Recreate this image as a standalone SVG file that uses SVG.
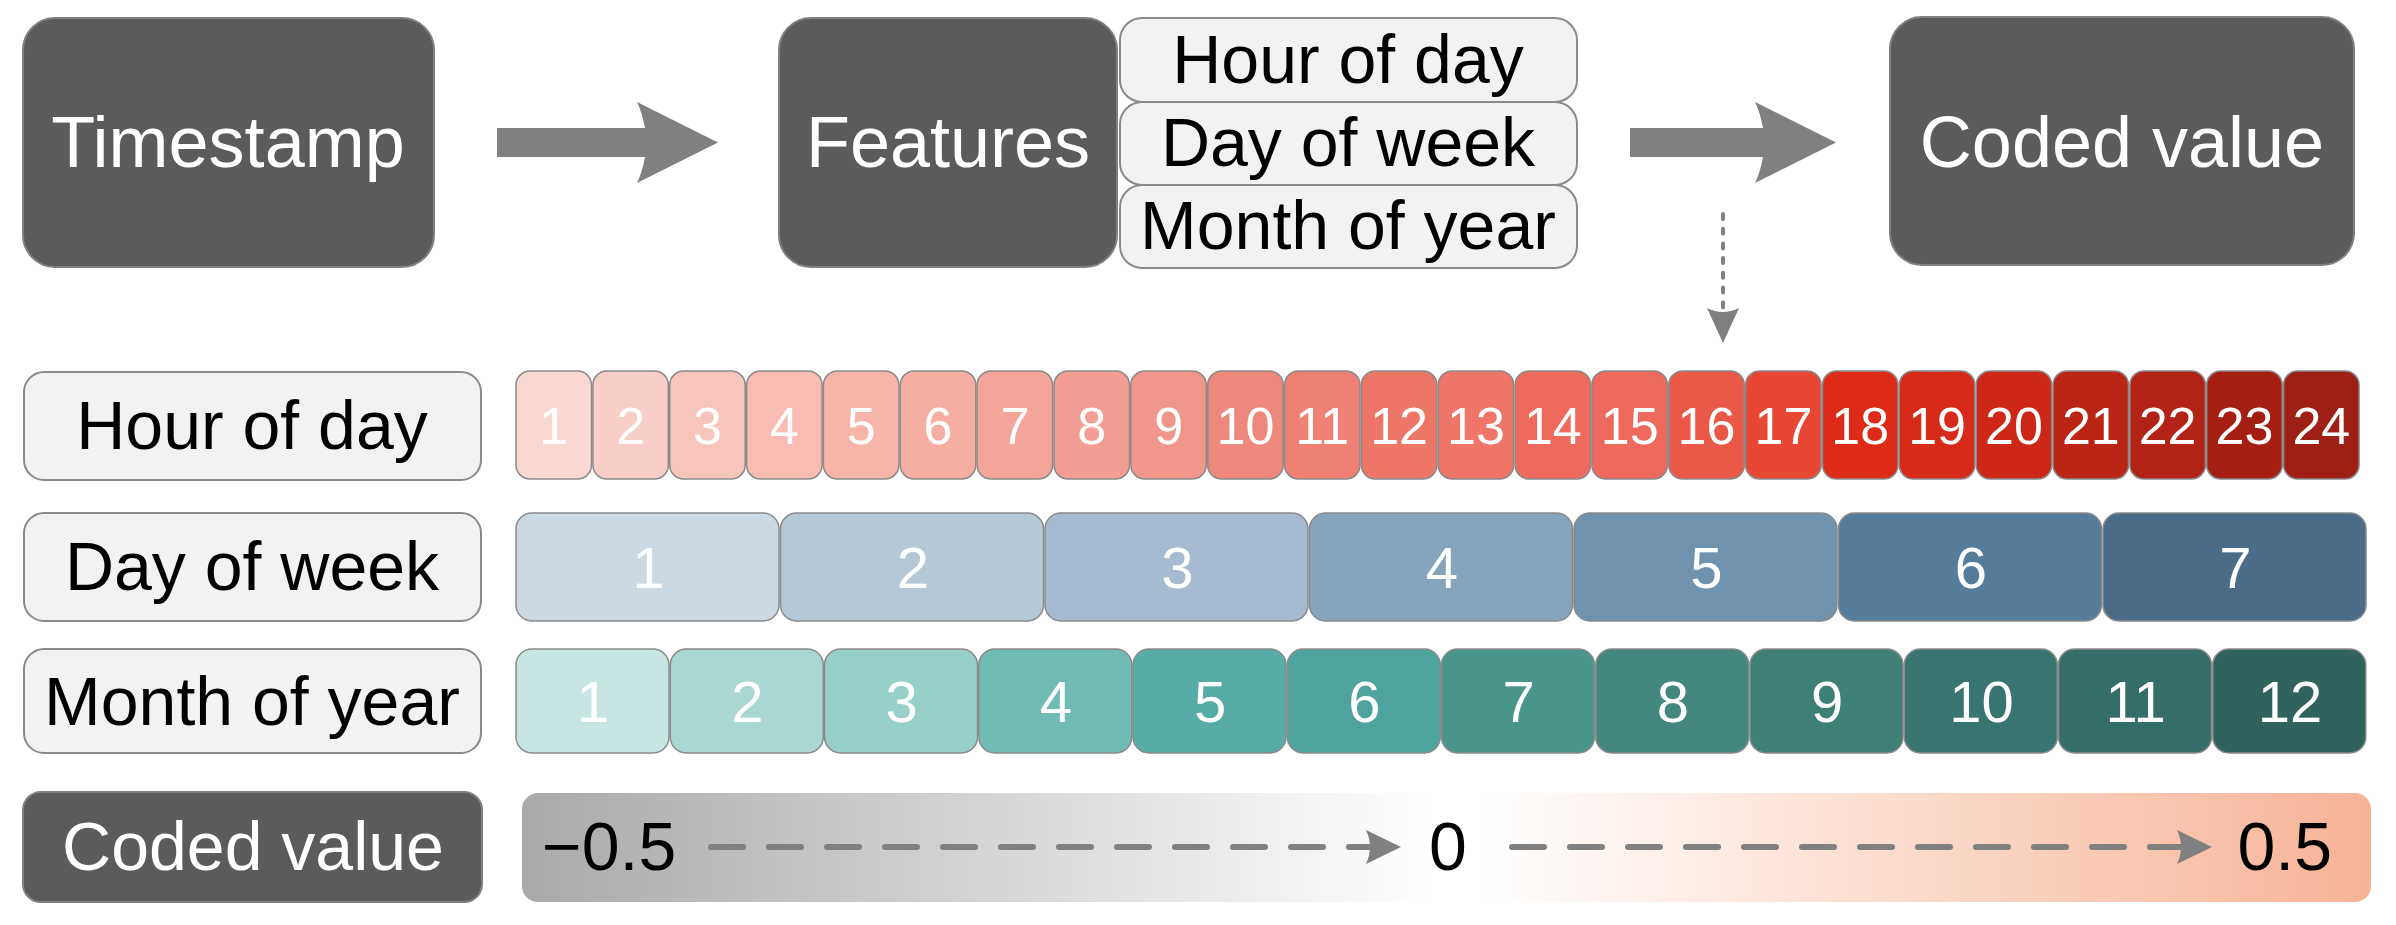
<svg xmlns="http://www.w3.org/2000/svg" width="2396" height="925" viewBox="0 0 2396 925">
<defs>
<style>
.dark{fill:#5b5b5b;stroke:#808080;stroke-width:2}
.lite{fill:#f2f2f2;stroke:#8a8a8a;stroke-width:2}
.cell{stroke:#8a8a8a;stroke-width:1.5}
.t{font-family:"Liberation Sans",Arial,sans-serif;text-anchor:middle}
.w{fill:#ffffff}
.k{fill:#000000}
.big{font-size:72px}
.lab{font-size:68px}
.hd{font-size:52px}
.dg{font-size:58px}
.bigarrow{fill:#808080}
.dash{stroke:#808080;stroke-width:6;stroke-linecap:round;stroke-dasharray:32 26;fill:none}
.dot{stroke:#808080;stroke-width:4;stroke-linecap:round;stroke-dasharray:5 9.7;fill:none}
</style>
<linearGradient id="gbar" x1="0" y1="0" x2="1" y2="0">
<stop offset="0" stop-color="#a9a9a9"/>
<stop offset="0.49" stop-color="#ffffff"/>
<stop offset="0.52" stop-color="#ffffff"/>
<stop offset="1" stop-color="#f7b396"/>
</linearGradient>
</defs>
<rect width="2396" height="925" fill="#ffffff"/>

<g id="timestamp">
<rect class="dark" x="23" y="18" width="411" height="249" rx="32"/>
<text class="t w big" x="228" y="167">Timestamp</text>
</g>

<g id="features">
<rect class="dark" x="779" y="18" width="338" height="249" rx="32"/>
<text class="t w big" x="948" y="167">Features</text>
</g>

<g id="feature-list">
<rect class="lite" x="1120" y="18" width="457" height="84" rx="22"/>
<text class="t k lab" x="1348" y="83">Hour of day</text>
<rect class="lite" x="1120" y="102" width="457" height="83" rx="22"/>
<text class="t k lab" x="1348" y="166">Day of week</text>
<rect class="lite" x="1120" y="185" width="457" height="83" rx="22"/>
<text class="t k lab" x="1348" y="249">Month of year</text>
</g>

<g id="coded-value-top">
<rect class="dark" x="1890" y="17" width="464" height="248" rx="32"/>
<text class="t w big" x="2122" y="167">Coded value</text>
</g>

<g id="connectors">
<path class="bigarrow" d="M497,128 L645,128 Q642,112 637,102 L718,142.5 L637,183 Q642,173 645,157 L497,157 Z"/>
<path class="bigarrow" d="M1630,128 L1763,128 Q1760,112 1755,102 L1836,142.5 L1755,183 Q1760,173 1763,157 L1630,157 Z"/>
<line class="dot" x1="1723" y1="214" x2="1723" y2="310"/>
<path fill="#808080" d="M1707,308 Q1723,316 1739,308 L1723,343 Z"/>
</g>

<g id="row-hour-label">
<rect class="lite" x="24" y="372" width="457" height="108" rx="20"/>
<text class="t k lab" x="252" y="449">Hour of day</text>
</g>

<g id="row-hour-cells">
<rect class="cell" x="516.0" y="371" width="75.5" height="108" rx="14" fill="#f9d7d2"/>
<rect class="cell" x="592.9" y="371" width="75.5" height="108" rx="14" fill="#f9cec8"/>
<rect class="cell" x="669.7" y="371" width="75.5" height="108" rx="14" fill="#f8c5bd"/>
<rect class="cell" x="746.6" y="371" width="75.5" height="108" rx="14" fill="#f8bcb2"/>
<rect class="cell" x="823.4" y="371" width="75.5" height="108" rx="14" fill="#f7b4a9"/>
<rect class="cell" x="900.3" y="371" width="75.5" height="108" rx="14" fill="#f6aea3"/>
<rect class="cell" x="977.1" y="371" width="75.5" height="108" rx="14" fill="#f3a59a"/>
<rect class="cell" x="1054.0" y="371" width="75.5" height="108" rx="14" fill="#f39e94"/>
<rect class="cell" x="1130.8" y="371" width="75.5" height="108" rx="14" fill="#f1968b"/>
<rect class="cell" x="1207.7" y="371" width="75.5" height="108" rx="14" fill="#ef887c"/>
<rect class="cell" x="1284.5" y="371" width="75.5" height="108" rx="14" fill="#ef8074"/>
<rect class="cell" x="1361.4" y="371" width="75.5" height="108" rx="14" fill="#ee7667"/>
<rect class="cell" x="1438.2" y="371" width="75.5" height="108" rx="14" fill="#ef7568"/>
<rect class="cell" x="1515.1" y="371" width="75.5" height="108" rx="14" fill="#ee6a5c"/>
<rect class="cell" x="1591.9" y="371" width="75.5" height="108" rx="14" fill="#ed695b"/>
<rect class="cell" x="1668.8" y="371" width="75.5" height="108" rx="14" fill="#ea5948"/>
<rect class="cell" x="1745.6" y="371" width="75.5" height="108" rx="14" fill="#e84734"/>
<rect class="cell" x="1822.5" y="371" width="75.5" height="108" rx="14" fill="#dd2b18"/>
<rect class="cell" x="1899.3" y="371" width="75.5" height="108" rx="14" fill="#d82a19"/>
<rect class="cell" x="1976.2" y="371" width="75.5" height="108" rx="14" fill="#cd2817"/>
<rect class="cell" x="2053.0" y="371" width="75.5" height="108" rx="14" fill="#bb2516"/>
<rect class="cell" x="2129.9" y="371" width="75.5" height="108" rx="14" fill="#b22215"/>
<rect class="cell" x="2206.7" y="371" width="75.5" height="108" rx="14" fill="#a41f12"/>
<rect class="cell" x="2283.6" y="371" width="75.5" height="108" rx="14" fill="#9e1f13"/>
<g class="t w hd">
<text x="553.8" y="444">1</text>
<text x="630.6" y="444">2</text>
<text x="707.5" y="444">3</text>
<text x="784.3" y="444">4</text>
<text x="861.2" y="444">5</text>
<text x="938.0" y="444">6</text>
<text x="1014.9" y="444">7</text>
<text x="1091.7" y="444">8</text>
<text x="1168.6" y="444">9</text>
<text x="1245.4" y="444">10</text>
<text x="1322.3" y="444">11</text>
<text x="1399.1" y="444">12</text>
<text x="1476.0" y="444">13</text>
<text x="1552.8" y="444">14</text>
<text x="1629.7" y="444">15</text>
<text x="1706.5" y="444">16</text>
<text x="1783.4" y="444">17</text>
<text x="1860.2" y="444">18</text>
<text x="1937.1" y="444">19</text>
<text x="2013.9" y="444">20</text>
<text x="2090.8" y="444">21</text>
<text x="2167.6" y="444">22</text>
<text x="2244.5" y="444">23</text>
<text x="2321.3" y="444">24</text>
</g>
</g>

<g id="row-day-label">
<rect class="lite" x="24" y="513" width="457" height="108" rx="20"/>
<text class="t k lab" x="252" y="590">Day of week</text>
</g>

<g id="row-day-cells">
<rect class="cell" x="516" y="513" width="263" height="108" rx="16" fill="#ccd9e2"/>
<rect class="cell" x="780.5" y="513" width="263" height="108" rx="16" fill="#b5c8d6"/>
<rect class="cell" x="1045" y="513" width="263" height="108" rx="16" fill="#a6bbcf"/>
<rect class="cell" x="1309.5" y="513" width="263" height="108" rx="16" fill="#86a4bc"/>
<rect class="cell" x="1574" y="513" width="263" height="108" rx="16" fill="#6f93ae"/>
<rect class="cell" x="1838.5" y="513" width="263" height="108" rx="16" fill="#567c9c"/>
<rect class="cell" x="2103" y="513" width="263" height="108" rx="16" fill="#4a6c89"/>
<g class="t w dg">
<text x="648.3" y="588">1</text>
<text x="912.8" y="588">2</text>
<text x="1177.3" y="588">3</text>
<text x="1441.8" y="588">4</text>
<text x="1706.3" y="588">5</text>
<text x="1970.8" y="588">6</text>
<text x="2235.3" y="588">7</text>
</g>
</g>

<g id="row-month-label">
<rect class="lite" x="24" y="649" width="457" height="104" rx="20"/>
<text class="t k lab" x="252" y="725">Month of year</text>
</g>

<g id="row-month-cells">
<rect class="cell" x="516.0" y="649" width="153" height="104" rx="16" fill="#c6e5e3"/>
<rect class="cell" x="670.3" y="649" width="153" height="104" rx="16" fill="#a9d8d3"/>
<rect class="cell" x="824.5" y="649" width="153" height="104" rx="16" fill="#97d0c9"/>
<rect class="cell" x="978.8" y="649" width="153" height="104" rx="16" fill="#70bbb4"/>
<rect class="cell" x="1133.0" y="649" width="153" height="104" rx="16" fill="#57ada6"/>
<rect class="cell" x="1287.3" y="649" width="153" height="104" rx="16" fill="#4ea49c"/>
<rect class="cell" x="1441.5" y="649" width="153" height="104" rx="16" fill="#4a958a"/>
<rect class="cell" x="1595.8" y="649" width="153" height="104" rx="16" fill="#44877f"/>
<rect class="cell" x="1750.0" y="649" width="153" height="104" rx="16" fill="#3e7f76"/>
<rect class="cell" x="1904.3" y="649" width="153" height="104" rx="16" fill="#387570"/>
<rect class="cell" x="2058.5" y="649" width="153" height="104" rx="16" fill="#356e68"/>
<rect class="cell" x="2212.8" y="649" width="153" height="104" rx="16" fill="#30635d"/>
<g class="t w dg">
<text x="593.1" y="722">1</text>
<text x="747.4" y="722">2</text>
<text x="901.6" y="722">3</text>
<text x="1055.9" y="722">4</text>
<text x="1210.1" y="722">5</text>
<text x="1364.4" y="722">6</text>
<text x="1518.6" y="722">7</text>
<text x="1672.9" y="722">8</text>
<text x="1827.1" y="722">9</text>
<text x="1981.4" y="722">10</text>
<text x="2135.6" y="722">11</text>
<text x="2289.9" y="722">12</text>
</g>
</g>

<g id="row-coded-label">
<rect class="dark" x="23" y="792" width="459" height="110" rx="18"/>
<text class="t w lab" x="253" y="870">Coded value</text>
</g>

<g id="coded-scale">
<rect x="522" y="793" width="1849" height="109" rx="16" fill="url(#gbar)"/>
<text class="k lab" font-family="Liberation Sans, Arial, sans-serif" x="542" y="870">−0.5</text>
<text class="t k lab" x="1448" y="870">0</text>
<text class="k lab" font-family="Liberation Sans, Arial, sans-serif" text-anchor="end" x="2332" y="870">0.5</text>
<line class="dash" x1="711" y1="847" x2="1372" y2="847"/>
<path fill="#808080" d="M1366,830 L1401,847 L1366,864 Q1374,847 1366,830 Z"/>
<line class="dash" x1="1512" y1="847" x2="2183" y2="847"/>
<path fill="#808080" d="M2177,830 L2212,847 L2177,864 Q2185,847 2177,830 Z"/>
</g>
</svg>
